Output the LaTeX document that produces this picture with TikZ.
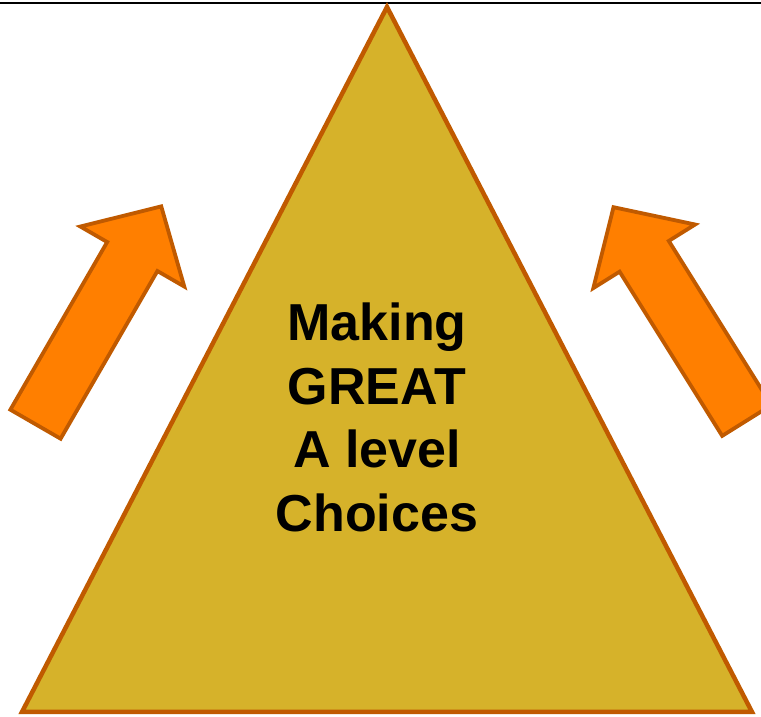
\documentclass[tikz,border=0pt]{standalone}
\usepackage{fontspec}
\setmainfont{Liberation Sans}
\usepackage{xcolor}
\usetikzlibrary{positioning}
\definecolor{pyrfill}{RGB}{214,178,42}
\definecolor{rimbrown}{RGB}{192,90,0}
\definecolor{arrorange}{RGB}{255,127,0}

\begin{document}
\begin{tikzpicture}[x=1pt, y=1pt, line join=miter,
                    semithick]
\tikzstyle{pyramid}=[draw=rimbrown, fill=pyrfill, line width=4.5pt]
\tikzstyle{arrowbody}=[draw=rimbrown, fill=arrorange, line width=3.8pt]
\tikzstyle{title}=[align=center, inner sep=0pt,
                    font=\bfseries\fontsize{52}{63.5}\selectfont]
\tikzset{uparrow/.pic={
  \draw[arrowbody] (0,-29) -- (193.6,-29) -- (193.6,-60) -- (251.5,0)
    -- (193.6,60) -- (193.6,29) -- (0,29) -- cycle;}}
  \path[use as bounding box, clip] (0,0) rectangle (761,717);
  % top rule
  \coordinate (ruleL) at (0,714);
  \coordinate (ruleR) at (761,714);
  \draw[line width=1.4pt] (ruleL) -- (ruleR);
  % pyramid
  \coordinate (apex) at (387,710);
  \coordinate (baseL) at (22,5);
  \coordinate (baseR) at (752,5);
  \draw[pyramid] (apex) -- (baseL) -- (baseR) -- cycle;
  \node[title] (caption) at (377,299.5) {Making\\GREAT\\A level\\Choices};
  % rising arrows
  \pic[rotate=60]  at (35.5,292.8)  {uparrow};
  \pic[rotate=122] at (746.8,296.5) {uparrow};
\end{tikzpicture}
\end{document}
